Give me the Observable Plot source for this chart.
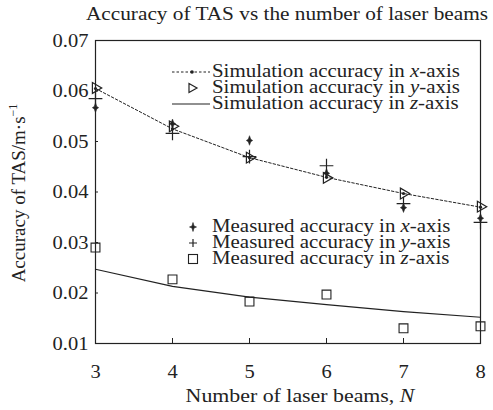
<!DOCTYPE html>
<html><head><meta charset="utf-8">
<script src="https://cdn.jsdelivr.net/npm/d3@7"></script>
<script src="https://cdn.jsdelivr.net/npm/@observablehq/plot@0.6"></script>
<style>
body{margin:0;background:#fff;font-family:"Liberation Serif","Times New Roman",serif;color:#222;}
#wrap{position:relative;width:493px;height:410px;overflow:hidden;}
#title{position:absolute;left:287px;top:14px;font-size:19px;white-space:nowrap;transform:translate(-50%,-50%) scaleX(1.12);}
#chart{position:absolute;left:0;top:25px;}
.leg{position:absolute;font-size:19px;white-space:nowrap;line-height:16px;}
.leg i{font-style:italic;}
.row{position:absolute;left:0;height:16px;}
.row svg{position:absolute;left:0;top:0;}
.row span{position:absolute;left:40px;top:-1px;transform-origin:0 50%;transform:scaleX(1.1);}
</style></head>
<body>
<div id="wrap">
<div id="title">Accuracy of TAS vs the number of laser beams</div>
<div id="chart"></div>
<div class="leg" id="leg1" style="left:172px;top:64px;"></div>
<div class="leg" id="leg2" style="left:172px;top:219px;"></div>
</div>
<script>
const N = [3, 4, 5, 6, 7, 8];
const simX = [0.0605, 0.0525, 0.0468, 0.0429, 0.0397, 0.0370];
const simY = [0.0606, 0.0530, 0.0468, 0.0428, 0.0397, 0.0371];
const simZ = [0.0247, 0.0213, 0.0192, 0.0177, 0.0163, 0.0152];
const measX = [0.0567, 0.0535, 0.0502, 0.0437, 0.0369, 0.0348];
const measY = [0.0585, 0.0516, 0.0470, 0.0452, 0.0377, 0.0340];
const measZ = [0.0290, 0.0227, 0.0183, 0.0197, 0.0130, 0.0134];
const yTicks = [0.01, 0.02, 0.03, 0.04, 0.05, 0.06, 0.07];
const xTicks = [3, 4, 5, 6, 7, 8];
const labels = {
  simX: "Simulation accuracy in ", simY: "Simulation accuracy in ", simZ: "Simulation accuracy in ",
  measX: "Measured accuracy in ", measY: "Measured accuracy in ", measZ: "Measured accuracy in "
};

const rows = (arr) => N.map((n, i) => ({n, v: arr[i]}));
const ink = "#222";

const star4 = {
  draw(ctx, size) {
    const r = Math.sqrt(size / Math.PI);
    ctx.moveTo(0, -r * 1.5);
    ctx.lineTo(r * 0.4, -r * 0.4);
    ctx.lineTo(r, 0);
    ctx.lineTo(r * 0.4, r * 0.4);
    ctx.lineTo(0, r * 1.5);
    ctx.lineTo(-r * 0.4, r * 0.4);
    ctx.lineTo(-r, 0);
    ctx.lineTo(-r * 0.4, -r * 0.4);
    ctx.closePath();
  }
};

const plot = Plot.plot({
  width: 493, height: 385,
  marginLeft: 95, marginRight: 13, marginTop: 15, marginBottom: 67,
  style: {fontFamily: '"Liberation Serif","Times New Roman",serif', fontSize: "19px", color: ink, background: "#fff"},
  x: {domain: [3, 8]},
  y: {domain: [0.01, 0.07]},
  marks: [
    Plot.frame({stroke: ink, strokeWidth: 1.2}),
    Plot.axisX({ticks: xTicks, tickSize: 0, tickPadding: 21, tickFormat: d => d, label: null, fontSize: 19}),
    Plot.axisX({ticks: xTicks.slice(1, -1), tickSize: -5, tickFormat: () => "", label: null, stroke: ink}),
    Plot.axisY({ticks: yTicks, tickSize: 0, tickPadding: 7, tickFormat: d => d.toFixed(2), label: null, fontSize: 19}),
    Plot.axisY({ticks: yTicks.slice(1, -1), tickSize: -3, tickFormat: () => "", label: null, stroke: ink}),
    Plot.line(rows(simZ), {x: "n", y: "v", stroke: ink, strokeWidth: 1.2}),
    Plot.line(rows(simX), {x: "n", y: "v", stroke: ink, strokeWidth: 1, strokeDasharray: "2.5,2"}),
    Plot.dot(rows(simX), {x: "n", y: "v", r: 1.6, fill: ink}),
    Plot.dot(rows(simY), {x: "n", y: "v", symbol: "triangle", r: 4, stroke: ink, strokeWidth: 1.2, fill: "none", rotate: 90}),
    Plot.dot(rows(measX), {x: "n", y: "v", symbol: star4, r: 3.2, fill: ink, stroke: ink, strokeWidth: 0.5}),
    Plot.dot(rows(measY), {x: "n", y: "v", symbol: "plus", r: 4.5, stroke: ink, strokeWidth: 1.2}),
    Plot.dot(rows(measZ), {x: "n", y: "v", symbol: "square", r: 5, stroke: ink, strokeWidth: 1.1, fill: "none"})
  ]
});
plot.querySelectorAll("g[aria-label$='tick label'] text").forEach(t => {
  const tr = t.getAttribute("transform") || "";
  t.setAttribute("transform", tr + " scale(1.08,1)");
});
document.getElementById("chart").appendChild(plot);

const wrap = document.getElementById("wrap");
const yl = document.createElement("div");
yl.innerHTML = 'Accuracy of TAS/m·s<sup style="font-size:12px">−1</sup>';
yl.style.cssText = "position:absolute;left:18px;top:193px;font-size:19px;white-space:nowrap;transform:translate(-50%,-50%) rotate(-90deg);";
wrap.appendChild(yl);
const xl = document.createElement("div");
xl.innerHTML = 'Number of laser beams, <i>N</i>';
xl.style.cssText = "position:absolute;left:300px;top:396px;font-size:19px;white-space:nowrap;transform:translate(-50%,-50%) scaleX(1.15);";
wrap.appendChild(xl);

function icon(kind) {
  const s = {
    simX: `<line x1="0" y1="8" x2="38" y2="8" stroke="${ink}" stroke-dasharray="2.5,2"/><circle cx="20" cy="8" r="1.8" fill="${ink}"/>`,
    simY: `<path d="M17,3.5 L25,8 L17,12.5 Z" fill="none" stroke="${ink}" stroke-width="1.2"/>`,
    simZ: `<line x1="0" y1="8" x2="38" y2="8" stroke="${ink}" stroke-width="1.2"/>`,
    measX: `<path d="M21,3.5 L22,7 L24.5,8 L22,9 L21,12.5 L20,9 L17.5,8 L20,7 Z" fill="${ink}" stroke="${ink}" stroke-width="0.6"/>`,
    measY: `<path d="M21,4 V12 M17,8 H25" stroke="${ink}" stroke-width="1.2"/>`,
    measZ: `<rect x="16.5" y="3.5" width="9" height="9" fill="none" stroke="${ink}" stroke-width="1.1"/>`
  }[kind];
  return `<svg width="40" height="16">${s}</svg>`;
}
function legend(id, items) {
  const el = document.getElementById(id);
  items.forEach(([k, ax], i) => {
    const r = document.createElement("div");
    r.className = "row";
    r.style.top = (i * 16) + "px";
    r.innerHTML = icon(k) + `<span>${labels[k]}<i>${ax}</i>-axis</span>`;
    el.appendChild(r);
  });
}
legend("leg1", [["simX", "x"], ["simY", "y"], ["simZ", "z"]]);
legend("leg2", [["measX", "x"], ["measY", "y"], ["measZ", "z"]]);
</script>
</body></html>
